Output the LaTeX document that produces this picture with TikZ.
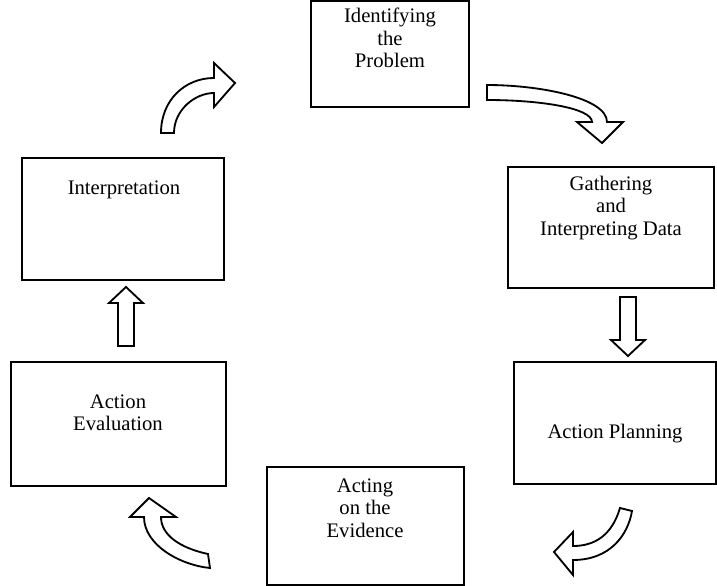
\documentclass[tikz,border=0pt]{standalone}
\usepackage{fontspec}
\setmainfont{Liberation Serif}
\usetikzlibrary{fit}
\tikzset{stage/.style = {draw, line width = 1.2pt, inner sep = 0}}
\tikzset{stagetext/.style = {align = center, font = \fontsize{12.4}{13.4}\selectfont}}
\tikzset{blockarrow/.style = {draw, line width = 1.1pt, fill = white, line join = miter}}

\begin{document}
\begin{tikzpicture}[x = 0.6pt, y = -0.6pt]
      \useasboundingbox (0, 0) rectangle (717, 586);

      % the six stages
      \node [stage, fit = {(311, 1) (469, 107)}] (problem) {};
      \node [stage, fit = {(508, 167) (714, 288)}] (gather) {};
      \node [stage, fit = {(514, 362) (716, 484)}] (planning) {};
      \node [stage, fit = {(267, 467) (464, 585)}] (acting) {};
      \node [stage, fit = {(11, 362) (226, 486)}] (evaluation) {};
      \node [stage, fit = {(22, 158) (224, 280)}] (interp) {};

      \node [stagetext] (problemtext) at (390, 38) {Identifying\\the\\Problem};
      \node [stagetext] (gathertext) at (611, 208) {Gathering\\and\\Interpreting Data};
      \node [stagetext] (planningtext) at (615, 434) {Action Planning};
      \node [stagetext] (actingtext) at (365, 508) {Acting\\on the\\Evidence};
      \node [stagetext] (evaluationtext) at (118, 413) {Action\\Evaluation};
      \node [stagetext] (interptext) at (124, 190) {Interpretation};

      % curved block arrows
      \draw [blockarrow] (161, 133) .. controls (161, 100) and (185, 78) .. (214, 78)
        -- (214, 63) -- (235, 83) -- (214, 107) -- (214, 93)
        .. controls (195, 93) and (174, 110) .. (174, 133) -- cycle;
      \draw [blockarrow] (487, 85) .. controls (540, 85) and (607, 98) .. (607, 122)
        -- (623, 122) -- (602, 143) -- (577, 122) -- (592, 122)
        .. controls (592, 108) and (540, 100) .. (487, 100) -- cycle;
      \draw [blockarrow] (620, 508) .. controls (612, 535) and (595, 546) .. (573, 546)
        -- (573, 532) -- (554, 552) -- (573, 575) -- (573, 560)
        .. controls (610, 560) and (628, 535) .. (632, 511) -- cycle;
      \draw [blockarrow] (208, 554) .. controls (180, 548) and (161, 535) .. (161, 517)
        -- (176, 517) -- (149, 498) -- (130, 517) -- (144, 517)
        .. controls (144, 545) and (180, 565) .. (210, 568) -- cycle;

      % straight block arrows
      \draw [blockarrow] (118, 346) -- (118, 303) -- (109, 303) -- (126, 287)
        -- (143, 303) -- (134, 303) -- (134, 346) -- cycle;
      \draw [blockarrow] (620, 297) -- (620, 340) -- (611, 340) -- (628, 356)
        -- (645, 340) -- (636, 340) -- (636, 297) -- cycle;
    \end{tikzpicture}
\end{document}
